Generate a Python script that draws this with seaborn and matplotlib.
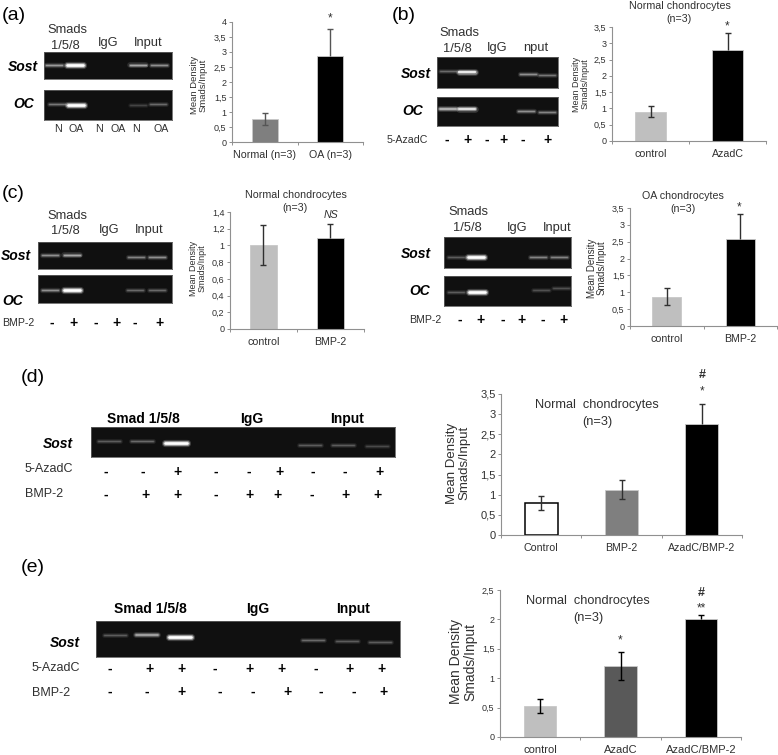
import matplotlib
matplotlib.use("Agg")
import matplotlib.pyplot as plt
import pandas as pd
import seaborn as sns

W, H = 778, 755

# bar chart values
a_groups = ["Normal (n=3)", "OA (n=3)"]
a_means = [0.78, 2.85]
a_err_low = [0.20, 0.0]
a_err_high = [0.20, 0.93]

b_groups = ["control", "AzadC"]
b_means = [0.90, 2.80]
b_err_low = [0.15, 0.0]
b_err_high = [0.16, 0.53]

c1_groups = ["control", "BMP-2"]
c1_means = [1.00, 1.09]
c1_err_low = [0.23, 0.0]
c1_err_high = [0.24, 0.17]

c2_groups = ["control", "BMP-2"]
c2_means = [0.87, 2.57]
c2_err_low = [0.26, 0.0]
c2_err_high = [0.26, 0.75]

d_groups = ["Control", "BMP-2", "AzadC/BMP-2"]
d_means = [0.80, 1.12, 2.76]
d_err_low = [0.18, 0.22, 0.0]
d_err_high = [0.17, 0.24, 0.49]

e_groups = ["control", "AzadC", "AzadC/BMP-2"]
e_means = [0.52, 1.21, 2.00]
e_err_low = [0.11, 0.24, 0.0]
e_err_high = [0.13, 0.24, 0.08]

ticks_35 = ["0", "0,5", "1", "1,5", "2", "2,5", "3", "3,5"]
ticks_4 = ["0", "0,5", "1", "1,5", "2", "2,5", "3", "3,5", "4"]
ticks_14 = ["0", "0,2", "0,4", "0,6", "0,8", "1", "1,2", "1,4"]
ticks_25 = ["0", "0,5", "1", "1,5", "2", "2,5"]

# gel band brightness per lane
a_sost = [0.55, 1.0, 0.6, 0.5]
a_oc = [0.4, 1.0, 0.2, 0.35]
b_sost = [0.35, 0.9, 0.5, 0.4]
b_oc = [0.7, 0.85, 0.5, 0.45]
c1_sost = [0.5, 0.6, 0.45, 0.5]
c1_oc = [0.5, 1.0, 0.35, 0.35]
c2_sost = [0.3, 1.0, 0.45, 0.45]
c2_oc = [0.3, 1.0, 0.25, 0.25]
d_sost = [0.3, 0.35, 1.0, 0.3, 0.3, 0.22]
e_sost = [0.3, 0.65, 1.0, 0.35, 0.3, 0.3]

# +/- rows under the gels
b_azad = ["-", "+", "-", "+", "-", "+"]
c_bmp = ["-", "+", "-", "+", "-", "+"]
d_azad = ["-", "-", "+", "-", "-", "+", "-", "-", "+"]
d_bmp = ["-", "+", "+", "-", "+", "+", "-", "+", "+"]
e_azad = ["-", "+", "+", "-", "+", "+", "-", "+", "+"]
e_bmp = ["-", "-", "+", "-", "-", "+", "-", "-", "+"]

sns.set_theme(style="white")
plt.rcParams["font.family"] = ["Liberation Sans", "DejaVu Sans"]
fig = plt.figure(figsize=(W / 100, H / 100), dpi=100)


def add_axes(x0, y0, x1, y1):
    # box given in picture pixels, y going down
    return fig.add_axes([x0 / W, 1 - y1 / H, (x1 - x0) / W, (y1 - y0) / H])


def label(x, y, s, size=7.7, ha="center", color="#303030", **kw):
    fig.text(x / W, 1 - y / H, s, fontsize=size, ha=ha, va="center", color=color, **kw)


def bar_chart(box, groups, means, err_low, err_high, colors, tick_labels, ymax,
              tick_size=6.5, x_size=7.7, bar_width=0.4, err_color="#303030"):
    ax = add_axes(*box)
    df = pd.DataFrame({"group": groups, "mean": means})
    sns.barplot(data=df, x="group", y="mean", hue="group", palette=colors, width=bar_width,
                legend=False, ax=ax, saturation=1, edgecolor="#c8c8c8", linewidth=0.6)
    _, caps, _ = ax.errorbar(range(len(groups)), means, yerr=[err_low, err_high], fmt="none",
                             ecolor=err_color, elinewidth=1.0, capsize=2.4, capthick=1.0, zorder=5)
    # no lower cap where the whisker is lost inside a black bar
    caps[0].set_ydata([m - e if e > 0 else float("nan") for m, e in zip(means, err_low)])
    ax.set_xlim(-0.5, len(groups) - 0.5)
    ax.set_ylim(0, ymax)
    step = ymax / (len(tick_labels) - 1)
    ax.set_yticks([i * step for i in range(len(tick_labels))])
    ax.set_yticklabels(tick_labels, fontsize=tick_size, color="#303030")
    ax.set_xticks(range(len(groups)))
    ax.set_xticklabels(groups, fontsize=x_size, color="#303030")
    ax.set_xticks([i - 0.5 for i in range(len(groups) + 1)], minor=True)
    ax.tick_params(axis="x", which="major", length=0, pad=6)
    ax.tick_params(axis="x", which="minor", length=2, width=0.7, color="#909090", bottom=True)
    ax.tick_params(axis="y", length=2, width=0.7, color="#909090", left=True, pad=2)
    ax.set_xlabel("")
    ax.set_ylabel("")
    sns.despine(ax=ax)
    for side in ["left", "bottom"]:
        ax.spines[side].set_color("#909090")
        ax.spines[side].set_linewidth(0.8)
    return ax


def gel(box, lanes, band_y, brightness, half_width=8):
    ax = add_axes(*box)
    ax.set_facecolor("#101010")
    ax.set_xlim(box[0], box[2])
    ax.set_ylim(box[3], box[1])
    ax.set_xticks([])
    ax.set_yticks([])
    for side in ax.spines.values():
        side.set_color("#606060")
        side.set_linewidth(0.6)
    for x, y, b in zip(lanes, band_y, brightness):
        level = str(min(1.0, 0.12 + 0.88 * b))
        core = 0.6 + 1.8 * b ** 2
        xs = [x - half_width, x + half_width]
        ax.plot(xs, [y, y], color=level, alpha=0.2, lw=core + 2.8, solid_capstyle="round")
        ax.plot(xs, [y, y], color=level, alpha=0.45, lw=core + 1.2, solid_capstyle="round")
        ax.plot(xs, [y, y], color=level, lw=core * 0.8, solid_capstyle="round")
    return ax


def sign_row(xs, y, signs):
    for x, s in zip(xs, signs):
        label(x, y, s, size=10, color="black", fontweight="bold")


def gene(x, y, s, size=10):
    label(x, y, s, size=size, ha="right", color="black", fontweight="bold", fontstyle="italic")


def ylabel2(x, y, s, size=6.5):
    label(x, y, s, size=size, rotation=90, multialignment="center", linespacing=1.0)


# panel (a)
label(2, 16, "(a)", size=14, ha="left", color="black")
label(67, 30, "Smads", size=9.3)
label(65, 46, "1/5/8", size=9.3)
label(108, 43, "IgG", size=9.3)
label(148, 43, "Input", size=9.3)
gene(38, 67, "Sost")
gene(34, 104, "OC")
gel((44, 52, 172, 79), [54, 75, 138, 159], [65] * 4, a_sost)
gel((44, 90, 172, 120), [57, 76, 138, 158], [104, 105, 105, 104], a_oc)
for x, s in zip([58, 76, 99, 118, 136, 161], ["N", "OA", "N", "OA", "N", "OA"]):
    label(x, 129, s, size=7.7)
bar_chart((232, 22, 363, 142), a_groups, a_means, a_err_low, a_err_high,
          ["#7f7f7f", "black"], ticks_4, 4, err_color="#555555")
label(330, 18, "*", size=8.5)
ylabel2(199, 85, "Mean Density\nSmads/Input", size=6.8)

# panel (b)
label(392, 16, "(b)", size=14, ha="left", color="black")
label(459, 33, "Smads", size=9.3)
label(457, 49, "1/5/8", size=9.3)
label(497, 48, "IgG", size=9.3)
label(536, 48, "nput", size=9.3)
gene(431, 74, "Sost")
gene(423, 111, "OC")
gel((437, 57, 558, 88), [448, 467, 528, 547], [71, 72, 74, 75], b_sost)
gel((437, 97, 558, 126), [448, 467, 526, 547], [109, 109, 111, 112], b_oc)
label(387, 140, "5-AzadC", size=7.7, ha="left")
sign_row([447, 468, 487, 504, 523, 547], 140, b_azad)
bar_chart((612, 27, 766, 141), b_groups, b_means, b_err_low, b_err_high,
          ["#bfbfbf", "black"], ticks_35, 3.5, bar_width=0.4)
label(680, 6, "Normal chondrocytes")
label(679, 19, "(n=3)")
label(727, 26, "*", size=8.5)
ylabel2(581, 84, "Mean Density\nSmads/Input")

# panel (c) left
label(2, 193, "(c)", size=14, ha="left", color="black")
label(67, 216, "Smads", size=9.3)
label(65, 231, "1/5/8", size=9.3)
label(109, 230, "IgG", size=9.3)
label(149, 230, "Input", size=9.3)
gene(31, 256, "Sost")
gene(23, 301, "OC")
gel((38, 242, 172, 269), [50, 72, 136, 157], [255, 255, 257, 257], c1_sost)
gel((38, 275, 172, 303), [50, 72, 135, 157], [290] * 4, c1_oc)
label(2, 323, "BMP-2", size=7.7, ha="left")
sign_row([52, 73, 96, 117, 135, 160], 323, c_bmp)
bar_chart((230, 212, 364, 329), c1_groups, c1_means, c1_err_low, c1_err_high,
          ["#bfbfbf", "black"], ticks_14, 1.4)
label(296, 195, "Normal chondrocytes")
label(295, 208, "(n=3)")
label(331, 215, "NS", fontstyle="italic")
ylabel2(198, 268, "Mean Density\nSmads/Inpit")

# panel (c) right
label(468, 212, "Smads", size=9.3)
label(467, 228, "1/5/8", size=9.3)
label(517, 228, "IgG", size=9.3)
label(557, 228, "Input", size=9.3)
gene(431, 254, "Sost")
gene(430, 291, "OC")
gel((444, 237, 571, 268), [456, 476, 538, 559], [257] * 4, c2_sost)
gel((444, 276, 571, 306), [456, 477, 541, 561], [292, 292, 290, 288], c2_oc)
label(409, 320, "BMP-2", size=7.7, ha="left")
sign_row([460, 481, 503, 521, 543, 564], 320, c_bmp)
bar_chart((630, 208, 777, 326), c2_groups, c2_means, c2_err_low, c2_err_high,
          ["#bfbfbf", "black"], ticks_35, 3.5)
label(683, 196, "OA chondrocytes")
label(683, 209, "(n=3)")
label(739, 207, "*", size=8.5)
ylabel2(597, 268, "Mean Density\nSmads/Input", size=7)

# panel (d)
label(21, 378, "(d)", size=14, ha="left", color="black")
label(143, 419, "Smad 1/5/8", size=10, color="black", fontweight="bold")
label(252, 419, "IgG", size=10, color="black", fontweight="bold")
label(347, 419, "Input", size=10, color="black", fontweight="bold")
gene(73, 444, "Sost")
gel((91, 427, 395, 457), [109, 142, 176, 310, 343, 377], [441, 441, 443, 445, 445, 446],
    d_sost, half_width=11)
label(25, 469, "5-AzadC", size=9, ha="left")
label(25, 494, "BMP-2", size=9, ha="left")
sign_row([106, 143, 178, 216, 249, 279, 313, 345, 380], 472, d_azad)
sign_row([106, 145, 177, 216, 250, 278, 312, 346, 378], 495, d_bmp)
ax_d = bar_chart((501, 394, 742, 535), d_groups, d_means, d_err_low, d_err_high,
                 ["white", "#7f7f7f", "black"], ticks_35, 3.5, tick_size=8, bar_width=0.41)
ax_d.patches[0].set_edgecolor("black")
ax_d.patches[0].set_linewidth(1.1)
label(597, 405, "Normal  chondrocytes", size=9.2)
label(597, 422, "(n=3)", size=9.2)
label(702, 375, "#", size=9, fontweight="bold")
label(702, 391, "*", size=8.5)
ylabel2(458, 463, "Mean Density\nSmads/Input", size=9.5)

# panel (e)
label(21, 568, "(e)", size=14, ha="left", color="black")
label(150, 609, "Smad 1/5/8", size=10, color="black", fontweight="bold")
label(258, 609, "IgG", size=10, color="black", fontweight="bold")
label(353, 609, "Input", size=10, color="black", fontweight="bold")
gene(80, 643, "Sost")
gel((96, 621, 400, 657), [115, 147, 180, 313, 347, 380], [635, 635, 637, 640, 641, 642],
    e_sost, half_width=11)
label(32, 668, "5-AzadC", size=9, ha="left")
label(32, 693, "BMP-2", size=9, ha="left")
sign_row([110, 149, 181, 215, 250, 282, 316, 350, 382], 669, e_azad)
sign_row([110, 147, 182, 220, 253, 287, 321, 354, 384], 692, e_bmp)
bar_chart((500, 590, 741, 737), e_groups, e_means, e_err_low, e_err_high,
          ["#bfbfbf", "#595959", "black"], ticks_25, 2.5, tick_size=6.5, x_size=8,
          err_color="black")
label(588, 601, "Normal  chondrocytes", size=9.2)
label(588, 618, "(n=3)", size=9.2)
label(701, 593, "#", size=9, fontweight="bold")
label(701, 608, "**", size=8.5)
label(620, 640, "*", size=8.5)
ylabel2(463, 662, "Mean Density\nSmads/Input", size=10)

fig.savefig("out.png", dpi=100, facecolor="white")
